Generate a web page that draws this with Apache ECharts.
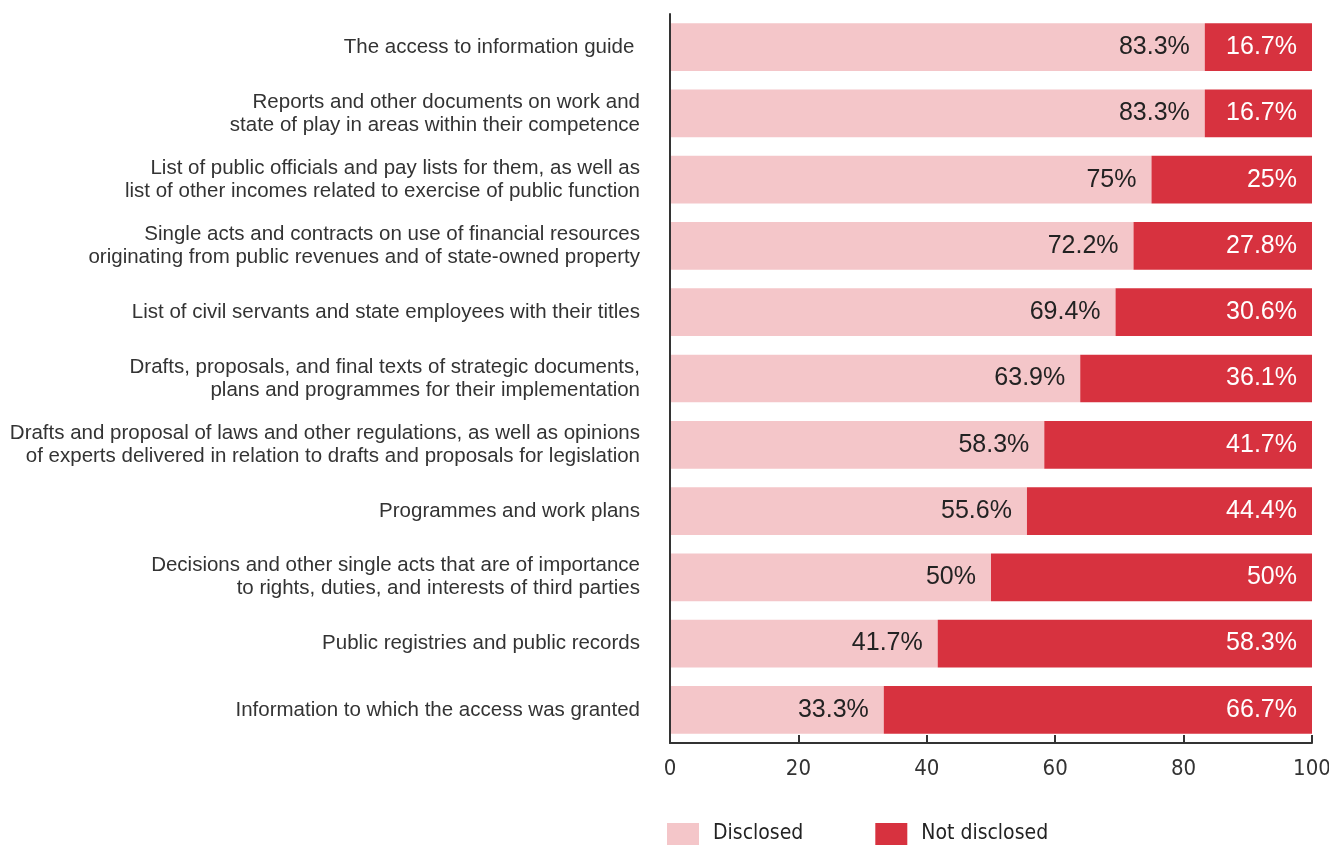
<!DOCTYPE html>
<html>
<head>
<meta charset="utf-8">
<script src="https://cdn.jsdelivr.net/npm/echarts@6/dist/echarts.min.js"></script>
<style>
  html, body { margin: 0; padding: 0; background: #fff; }
  #chart { width: 1329px; height: 845px; }
</style>
</head>
<body>
<div id="chart"></div>
<script>
// Categories, top to bottom as drawn
const categories = [
  'The access to information guide ',
  'Reports and other documents on work and\nstate of play in areas within their competence',
  'List of public officials and pay lists for them, as well as\nlist of other incomes related to exercise of public function',
  'Single acts and contracts on use of financial resources\noriginating from public revenues and of state-owned property',
  'List of civil servants and state employees with their titles',
  'Drafts, proposals, and final texts of strategic documents,\nplans and programmes for their implementation',
  'Drafts and proposal of laws and other regulations, as well as opinions\nof experts delivered in relation to drafts and proposals for legislation',
  'Programmes and work plans',
  'Decisions and other single acts that are of importance\nto rights, duties, and interests of third parties',
  'Public registries and public records',
  'Information to which the access was granted'
];
const disclosed    = [83.3, 83.3, 75, 72.2, 69.4, 63.9, 58.3, 55.6, 50, 41.7, 33.3];
const notDisclosed = [16.7, 16.7, 25, 27.8, 30.6, 36.1, 41.7, 44.4, 50, 58.3, 66.7];
const xTicks = [0, 20, 40, 60, 80, 100];

const condensed = '"Liberation Sans Narrow", "Arial Narrow", "DejaVu Sans Condensed", sans-serif';
const sans = '"Liberation Sans", Arial, sans-serif';

const fmt = p => p.value + '%';

const chart = echarts.init(document.getElementById('chart'));
chart.setOption({
  animation: false,
  grid: { left: 670, right: 17, top: 14, bottom: 102, containLabel: false, outerBoundsMode: 'none' },
  legend: {
    top: 818,
    left: 662,
    icon: 'rect',
    itemWidth: 32,
    itemHeight: 22,
    itemGap: 72,
    textStyle: { fontFamily: condensed, fontSize: 21, color: '#222', padding: [0, 0, 0, 9] },
    data: ['Disclosed', 'Not disclosed']
  },
  xAxis: {
    type: 'value',
    min: xTicks[0],
    max: xTicks[xTicks.length - 1],
    interval: 20,
    z: 10,
    splitLine: { show: false },
    axisLine: { show: true, lineStyle: { color: '#333', width: 2 } },
    axisTick: { show: true, inside: true, length: 8, lineStyle: { color: '#333', width: 2 } },
    axisLabel: { fontFamily: condensed, fontSize: 22, color: '#333', margin: 15 }
  },
  yAxis: {
    type: 'category',
    inverse: true,
    data: categories,
    z: 10,
    axisLine: { show: true, lineStyle: { color: '#333', width: 2 } },
    axisTick: { show: false },
    axisLabel: {
      fontFamily: sans, fontSize: 20.5, color: '#333', margin: 30,
      lineHeight: 23, align: 'right'
    }
  },
  series: [
    {
      name: 'Disclosed',
      type: 'bar',
      stack: 'total',
      barWidth: '72%',
      data: disclosed,
      itemStyle: { color: '#f4c6c9' },
      label: {
        show: true, position: 'insideRight', distance: 15, formatter: fmt,
        fontFamily: sans, fontSize: 25, color: '#222'
      }
    },
    {
      name: 'Not disclosed',
      type: 'bar',
      stack: 'total',
      data: notDisclosed,
      itemStyle: { color: '#d7323f' },
      label: {
        show: true, position: 'insideRight', distance: 15, formatter: fmt,
        fontFamily: sans, fontSize: 25, color: '#fff'
      }
    }
  ]
});
</script>
</body>
</html>
